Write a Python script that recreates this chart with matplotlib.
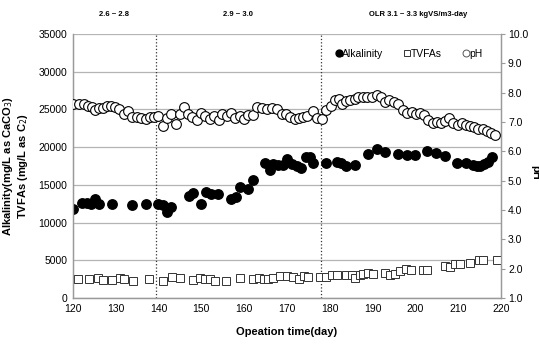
import matplotlib.pyplot as plt
from matplotlib.lines import Line2D

plt.rcParams['font.family'] = ['Liberation Sans', 'DejaVu Sans']

# 알칼리도 (mg/L as CaCO3)
alk_day = [120.1, 122, 123.2, 124.1, 125.1, 126.1, 129, 133.9, 137, 139.9, 141, 141.9, 143,
           147.2, 148.1, 149.9, 151, 152.2, 153.9, 156.9, 158.1, 159, 161, 162.1, 164.9, 166,
           166.7, 168, 169, 170.1, 171.1, 172.3, 173.2, 174.5, 175.3, 176.1, 179, 181.8, 182.6,
           183.9, 185.9, 189, 191, 192.9, 195.9, 198, 199.9, 202.6, 204.8, 206.8, 209.8, 211.8,
           213.5, 214.4, 215.1, 216.1, 217, 217.8]
alk_val = [11860, 12600, 12600, 12520, 13190, 12520, 12520, 12300, 12430, 12520, 12300, 11410, 12000,
           13500, 13930, 12520, 14070, 13850, 13850, 13190, 13400, 14730, 14510, 15710, 17960, 16950,
           17830, 17600, 17680, 18400, 17830, 17520, 17250, 18750, 18650, 17950, 17900, 18050, 17870,
           17480, 17610, 19070, 19730, 19380, 19070, 18940, 18940, 19510, 19240, 18800, 17920, 17870,
           17610, 17450, 17480, 17740, 18050, 18630]

# TVFAs (mg/L as C2)
vfa_day = [120, 121.2, 123.8, 125.9, 127.1, 129, 131, 132, 134.1, 137.8, 141.1, 143.1, 145,
           148, 149.7, 150.8, 152, 153.2, 155.7, 159, 162.1, 163.5, 164.6, 165.6, 166.8, 168.4,
           169.9, 171.5, 172.9, 174, 175, 177.7, 179.1, 180.4, 181.8, 183.8, 185.1, 185.9, 187.1,
           187.8, 189, 190, 192.9, 194.1, 195.2, 196.4, 197.8, 199, 201.7, 202.6, 206.8, 208.1,
           209.3, 210.4, 212.8, 214.9, 215.8, 219]
vfa_val = [2500, 2570, 2570, 2650, 2350, 2350, 2650, 2480, 2260, 2500, 2260, 2790, 2700,
           2350, 2650, 2480, 2480, 2260, 2260, 2650, 2480, 2650, 2480, 2570, 2700, 2880,
           2920, 2790, 2570, 2880, 2790, 2790, 2790, 3010, 3010, 3010, 3010, 2700, 3010,
           3230, 3370, 3230, 3370, 3010, 3230, 3540, 3900, 3680, 3680, 3770, 4250, 4130,
           4470, 4470, 4690, 5000, 5000, 5000]

# pH
ph_day = [120, 121.4, 122.6, 123.6, 124.4, 125.1, 126.1, 127.1, 128, 128.9, 129.8, 130.8, 131.9,
          132.9, 133.9, 135, 136, 137, 138, 138.9, 139.9, 141, 142, 143, 144, 145, 145.9, 146.9,
          147.9, 149, 149.9, 150.9, 152, 153, 154, 154.9, 155.9, 157, 157.9, 159, 159.9, 161, 162,
          163, 164.1, 165.3, 166.4, 167.6, 168.8, 169.8, 170.7, 171.9, 172.9, 173.8, 174.7, 176,
          176.9, 178.1, 179.2, 180.2, 181.2, 182.1, 182.9, 183.9, 184.8, 185.8, 186.7, 187.7, 188.8,
          189.8, 191, 191.9, 192.9, 193.9, 195, 196, 197, 198, 199.1, 200.1, 201.1, 202, 203, 204,
          205, 206, 206.9, 207.9, 208.9, 210, 210.8, 211.8, 212.8, 213.7, 214.7, 215.7, 216.7,
          217.6, 218.7]
ph_val = [7.61, 7.61, 7.60, 7.55, 7.50, 7.41, 7.49, 7.49, 7.55, 7.56, 7.50, 7.45, 7.27,
          7.37, 7.16, 7.18, 7.13, 7.10, 7.16, 7.18, 7.20, 6.87, 7.13, 7.26, 6.93, 7.26, 7.52, 7.28,
          7.18, 7.06, 7.32, 7.20, 7.09, 7.22, 7.06, 7.28, 7.22, 7.30, 7.12, 7.22, 7.09, 7.25, 7.25,
          7.50, 7.49, 7.46, 7.49, 7.44, 7.29, 7.26, 7.18, 7.10, 7.14, 7.18, 7.20, 7.37,
          7.14, 7.10, 7.41, 7.55, 7.75, 7.78, 7.63, 7.70, 7.75, 7.78, 7.84, 7.86, 7.86,
          7.84, 7.92, 7.86, 7.68, 7.75, 7.68, 7.63, 7.41, 7.32, 7.35, 7.27, 7.30, 7.24, 7.07, 6.97,
          7.00, 6.97, 7.03, 7.12, 6.95, 6.90, 6.95, 6.90, 6.86, 6.82, 6.75, 6.75, 6.69,
          6.64, 6.55]

phase_days = [139.3, 177.9]
phase_labels = ['2.6 ~ 2.8', '2.9 ~ 3.0', 'OLR 3.1 ~ 3.3 kgVS/m3-day']
phase_centers = [129.5, 158.5, 200.7]

fig = plt.figure(figsize=(5.39, 3.45), dpi=100)
ax = fig.add_axes([0.1354, 0.1362, 0.7941, 0.7652])
ax2 = ax.twinx()

ax.plot(alk_day, alk_val, 'o', color='black', markersize=6.8, zorder=3)
ax.plot(vfa_day, vfa_val, 's', mfc='white', mec='#333333', mew=0.7, markersize=5.5, zorder=3)
ax2.plot(ph_day, ph_val, 'o', mfc='white', mec='black', mew=0.8, markersize=7, zorder=3)

# 구간 경계
for d in phase_days:
    ax.axvline(d, color='#333333', linestyle=':', linewidth=0.9, zorder=2)

ax.set_xlim(120, 220)
ax.set_ylim(0, 35000)
ax2.set_ylim(1.0, 10.0)
ax.set_xticks(range(120, 221, 10))
ax.set_yticks(range(0, 35001, 5000))
ax2.set_yticks([1.0 + i for i in range(10)])
ax2.set_yticklabels([f'{1.0 + i:.1f}' for i in range(10)])

ax.grid(axis='y', color='#b4b4b4', linewidth=0.9)
ax.set_axisbelow(True)
for a in (ax, ax2):
    for s in a.spines.values():
        s.set_color('#9a9a9a')
        s.set_linewidth(0.9)
ax.spines['top'].set_visible(False)
ax2.spines['top'].set_visible(False)
ax.tick_params(axis='both', length=0, labelsize=7.5, pad=4)
ax2.tick_params(axis='y', length=3, color='#9a9a9a', labelsize=7.5, pad=2)

ax.set_xlabel('Opeation time(day)', fontsize=8, fontweight='bold', labelpad=10)
ax.set_ylabel('Alkalinity(mg/L as CaCO$_3$)\nTVFAs (mg/L as C$_2$)', fontsize=8,
              fontweight='bold', labelpad=6, linespacing=1.1)
fig.text(0.993, 0.5, 'pH', rotation=270, fontsize=8, fontweight='bold', va='center', ha='center')

for x, lab in zip(phase_centers, phase_labels):
    ax.text(x, 1.075, lab, transform=ax.get_xaxis_transform(), ha='center', va='center',
            fontsize=5.5, fontweight='bold')

handles = [
    Line2D([], [], marker='o', linestyle='', color='black', markersize=5),
    Line2D([], [], marker='s', linestyle='', mfc='white', mec='#333333', mew=0.7, markersize=4.5),
    Line2D([], [], marker='o', linestyle='', mfc='white', mec='#555555', mew=0.7, markersize=5),
]
ax2.legend(handles, ['Alkalinity', 'TVFAs', 'pH'], ncol=3, frameon=False, fontsize=7.5,
           loc='center right', bbox_to_anchor=(0.97, 0.925), handlelength=0.6,
           handletextpad=0.05, columnspacing=2.0, borderpad=0)

fig.savefig('out.png', dpi=100)
